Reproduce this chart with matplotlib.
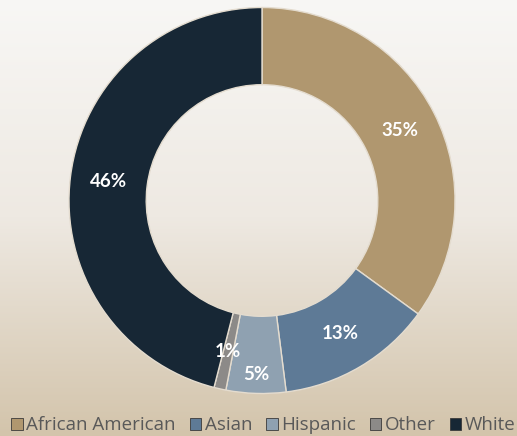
import numpy as np
import matplotlib
matplotlib.use("Agg")
import matplotlib.pyplot as plt
from matplotlib.colors import LinearSegmentedColormap

categories = ["African American", "Asian", "Hispanic", "Other", "White"]
shares = [35, 13, 5, 1, 46]
pct_labels = ["35%", "13%", "5%", "1%", "46%"]
colors = ["#B0976F", "#5E7A96", "#8FA1B1", "#8C8A88", "#172735"]
label_r = [0.80, 0.80, 0.90, 0.80, 0.80]

W, H = 517, 436
fig = plt.figure(figsize=(W / 100, H / 100), dpi=100)

# gradient background
bg = fig.add_axes([0, 0, 1, 1], zorder=-10)
cmap = LinearSegmentedColormap.from_list("bg", ["#F8F7F5", "#EEE9E2", "#D3C4AB"])
bg.imshow(np.linspace(0, 1, 256).reshape(-1, 1), aspect="auto", cmap=cmap,
          extent=[0, 1, 0, 1], origin="upper")
bg.axis("off")

cx, cy, R = 262, 200.5, 193
ax = fig.add_axes([(cx - R) / W, (H - cy - R) / H, 2 * R / W, 2 * R / H])
wedges, _ = ax.pie(shares, colors=colors, startangle=90, counterclock=False,
                   radius=1, wedgeprops=dict(width=0.40, edgecolor="#E4DCCF", linewidth=1.0))
ax.set_xlim(-1, 1); ax.set_ylim(-1, 1); ax.set_aspect("equal"); ax.axis("off")

for w, lab, r in zip(wedges, pct_labels, label_r):
    ang = np.deg2rad((w.theta1 + w.theta2) / 2)
    ax.text(r * np.cos(ang), r * np.sin(ang), lab, ha="center", va="center",
            color="white", fontsize=13.5, fontweight="bold", family="Lato")

leg = fig.legend(wedges, categories, loc="lower left", bbox_to_anchor=(0.0, -0.022),
                 ncol=5, frameon=False, handlelength=0.6, handleheight=0.6,
                 handletextpad=0.2, columnspacing=0.75, borderaxespad=0.2,
                 prop=dict(family="Open Sans", size=13.5))
for t in leg.get_texts():
    t.set_color("#595959")
for h in leg.legend_handles:
    h.set_edgecolor("#3a3a3a"); h.set_linewidth(0.6)

fig.savefig("out.png", dpi=100)
